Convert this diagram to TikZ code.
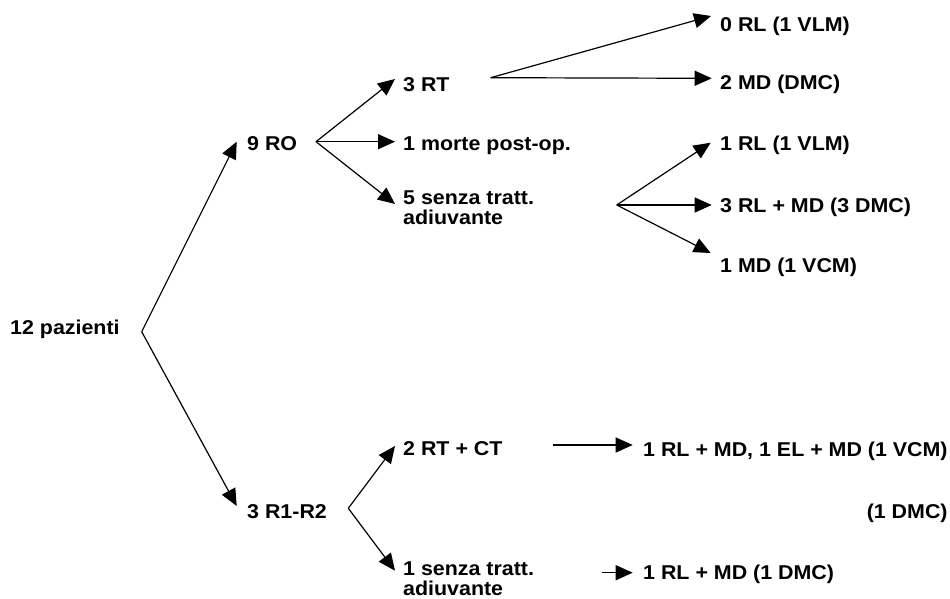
\documentclass[tikz,border=0pt]{standalone}
\usepackage{fontspec}
\setmainfont{Liberation Sans}[FakeStretch=1.07]
\usetikzlibrary{arrows.meta}
\tikzset{
  lbl/.style={anchor=base west, inner sep=0pt, font=\fontsize{20}{20}\selectfont\bfseries, align=left},
  arr/.style={line width=1.2pt, -{Triangle[length=17pt,width=15pt]}},
  ln/.style={line width=1.2pt}
}
\begin{document}
\begin{tikzpicture}[x=1pt,y=-1pt]
\useasboundingbox (0,0) rectangle (950,599);
% texts
\node[lbl] (p12) at (10,334) {12 pazienti};
\node[lbl] (ro) at (247,150) {9 RO};
\node[lbl] (rr) at (247,518) {3 R1-R2};
\node[lbl] (rt) at (403,92) {3 RT};
\node[lbl] (mo) at (403,150) {1 morte post-op.};
\node[lbl] (s5) at (403,224) {5 senza tratt.\\adiuvante};
\node[lbl] (rl0) at (720,32) {0 RL (1 VLM)};
\node[lbl] (md2) at (720,90) {2 MD (DMC)};
\node[lbl] (rl1) at (720,150) {1 RL (1 VLM)};
\node[lbl] (rl3) at (720,212) {3 RL + MD (3 DMC)};
\node[lbl] (md1) at (720,272) {1 MD (1 VCM)};
\node[lbl] (rtct) at (403,455) {2 RT + CT};
\node[lbl] (s1) at (403,595) {1 senza tratt.\\adiuvante};
\node[lbl] (res1) at (643,456) {1 RL + MD, 1 EL + MD (1 VCM)};
\node[lbl, anchor=base east] (dmc) at (res1.base east |- 0,518) {(1 DMC)};
\node[lbl] (res2) at (643,579) {1 RL + MD (1 DMC)};
% branch points and tips
\coordinate (v0) at (141.7,331.7);
\coordinate (v1) at (316,141.7);
\coordinate (v2) at (490.7,77.7);
\coordinate (v3) at (616.7,205);
\coordinate (v4) at (348.3,508.3);
\coordinate (v5) at (553,445);
\coordinate (v6) at (601.7,572.7);
\coordinate (tro) at (236.7,141.7);
\coordinate (trr) at (236.7,506);
\coordinate (trt) at (395,79);
\coordinate (tmo) at (395,141.7);
\coordinate (ts5) at (395,204);
\coordinate (trl0) at (711,16);
\coordinate (tmd2) at (711.7,78.3);
\coordinate (trl1) at (710.7,142.7);
\coordinate (trl3) at (711.7,205);
\coordinate (tmd1) at (710.7,253);
\coordinate (trtct) at (395,446);
\coordinate (ts1) at (395,570.7);
\coordinate (tres1) at (632.7,445);
\coordinate (tres2) at (632.7,572.7);
% connectors
\draw[arr] (v0) -- (tro);
\draw[arr] (v0) -- (trr);
\draw[arr] (v1) -- (trt);
\draw[arr] (v1) -- (tmo);
\draw[arr] (v1) -- (ts5);
\draw[arr] (v2) -- (trl0);
\draw[arr] (v2) -- (tmd2);
\draw[arr] (v3) -- (trl1);
\draw[arr] (v3) -- (trl3);
\draw[arr] (v3) -- (tmd1);
\draw[arr] (v4) -- (trtct);
\draw[arr] (v4) -- (ts1);
\draw[arr] (v5) -- (tres1);
\draw[arr] (v6) -- (tres2);
\end{tikzpicture}
\end{document}
